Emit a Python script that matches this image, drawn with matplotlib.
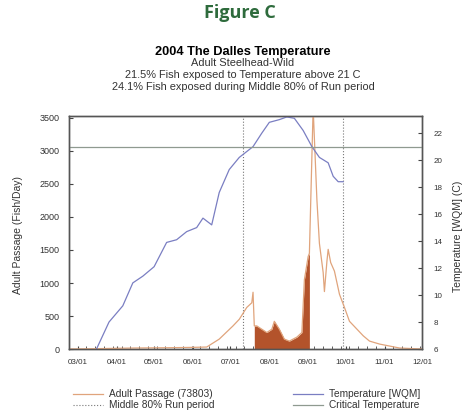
import matplotlib
matplotlib.use('Agg')
import matplotlib.pyplot as plt
import matplotlib.dates as mdates
import numpy as np
import pandas as pd

# Temperature [WQM], deg C
temp_dates = ['2004-03-16', '2004-03-26', '2004-04-06', '2004-04-14', '2004-04-22',
              '2004-05-01', '2004-05-11', '2004-05-19', '2004-05-27', '2004-06-04',
              '2004-06-09', '2004-06-16', '2004-06-22', '2004-06-30', '2004-07-08',
              '2004-07-19', '2004-07-26', '2004-08-01', '2004-08-09', '2004-08-15',
              '2004-08-21', '2004-08-28', '2004-09-04', '2004-09-10', '2004-09-17',
              '2004-09-21', '2004-09-25', '2004-09-29']
temp_values = [6.0, 8.0, 9.2, 10.9, 11.4,
               12.1, 13.9, 14.1, 14.7, 15.0,
               15.7, 15.2, 17.6, 19.3, 20.2,
               21.0, 22.0, 22.8, 23.0, 23.2,
               23.1, 22.2, 21.0, 20.2, 19.8,
               18.8, 18.4, 18.4]

# Adult passage, fish/day
pass_dates = ['2004-02-23', '2004-03-15', '2004-04-15', '2004-05-15', '2004-06-01',
              '2004-06-12', '2004-06-22', '2004-07-03', '2004-07-08', '2004-07-14',
              '2004-07-18', '2004-07-19', '2004-07-20', '2004-07-22', '2004-07-26',
              '2004-07-30', '2004-08-03', '2004-08-05', '2004-08-09', '2004-08-13',
              '2004-08-17', '2004-08-23', '2004-08-27', '2004-08-29', '2004-09-01',
              '2004-09-02', '2004-09-05', '2004-09-08', '2004-09-10', '2004-09-13',
              '2004-09-14', '2004-09-16', '2004-09-17', '2004-09-19', '2004-09-22',
              '2004-09-26', '2004-09-30', '2004-10-04', '2004-10-10', '2004-10-15',
              '2004-10-20', '2004-10-28', '2004-11-05', '2004-11-13', '2004-12-01']
pass_values = [0, 5, 15, 20, 25,
               30, 150, 350, 450, 630,
               700, 860, 350, 350, 300,
               250, 300, 420, 300, 150,
               120, 180, 250, 1050, 1400,
               1450, 3650, 2260, 1600, 1160,
               870, 1330, 1510, 1310, 1180,
               830, 630, 420, 300, 200,
               120, 75, 45, 15, 0]

critical_temp = 21
run_start, run_end = '2004-07-11', '2004-09-29'
hot_start, hot_end = '2004-07-20', '2004-09-02'
month_ticks = ['2004-03-01', '2004-04-01', '2004-05-01', '2004-06-01', '2004-07-01',
               '2004-08-01', '2004-09-01', '2004-10-01', '2004-11-01', '2004-12-01']

td = pd.to_datetime(temp_dates)
pdates = pd.to_datetime(pass_dates)
pv = np.array(pass_values)

plt.rcParams['font.family'] = ['Liberation Sans', 'DejaVu Sans']
fig = plt.figure(figsize=(4.69, 4.15), dpi=100)
ax = fig.add_axes([0.147, 0.159, 0.753, 0.5615])
ax2 = ax.twinx()

orange = '#e0a47c'
brown = '#b3532b'
blue = '#7a7ec2'
grey = '#8f9a90'
txt = '#333333'

hot = (pdates >= pd.Timestamp(hot_start)) & (pdates <= pd.Timestamp(hot_end))
ax.fill_between(pdates, 0, pv, where=hot, color=brown, lw=0, zorder=2)
ax.plot(pdates, pv, color=orange, lw=0.9, zorder=3)
for d in (run_start, run_end):
    ax.axvline(pd.Timestamp(d), color='#777777', ls=':', lw=0.8, zorder=1)

ax2.plot(td, temp_values, color=blue, lw=0.9)
ax2.axhline(critical_temp, color=grey, lw=0.9)

ax.set_xlim(pd.Timestamp('2004-02-23'), pd.Timestamp('2004-12-01'))
ax.set_ylim(0, 3530)
ax2.set_ylim(6, 23.27)
ax.set_yticks(np.arange(0, 3501, 500))
ax2.set_yticks(np.arange(6, 23, 2))
ax.set_xticks(pd.to_datetime(month_ticks))
ax.xaxis.set_major_formatter(mdates.DateFormatter('%m/%d'))
ax.xaxis.set_minor_locator(mdates.WeekdayLocator(byweekday=0))

ax.tick_params(axis='y', direction='in', length=3, labelsize=6.5, pad=7, colors='#444444', labelcolor=txt)
ax.tick_params(axis='x', which='both', direction='in', length=2.5, labelsize=5.8, pad=7, colors='#444444', labelcolor=txt)
ax2.tick_params(axis='y', direction='in', length=3, labelsize=5.8, pad=8, colors='#444444', labelcolor=txt)
for a in (ax, ax2):
    for s in a.spines.values():
        s.set_color('#555555')
        s.set_linewidth(1.0)

fig.text(0.038, 0.434, 'Adult Passage (Fish/Day)', rotation=90, ha='center', va='center', fontsize=7.5, color=txt)
fig.text(0.976, 0.43, 'Temperature [WQM] (C)', rotation=90, ha='center', va='center', fontsize=7.5, color=txt)

fig.text(0.512, 0.969, 'Figure C', ha='center', va='center', fontsize=13, fontweight='bold',
         color='#2e6b3c', family=['Open Sans', 'DejaVu Sans'])
fig.text(0.518, 0.875, '2004 The Dalles Temperature', ha='center', va='center', fontsize=9.2, fontweight='bold')
fig.text(0.518, 0.848, 'Adult Steelhead-Wild', ha='center', va='center', fontsize=7.9, color=txt)
fig.text(0.518, 0.819, '21.5% Fish exposed to Temperature above 21 C', ha='center', va='center', fontsize=7.9, color=txt)
fig.text(0.518, 0.790, '24.1% Fish exposed during Middle 80% of Run period', ha='center', va='center', fontsize=7.9, color=txt)

handles = [plt.Line2D([], [], color=orange, lw=0.9),
           plt.Line2D([], [], color='#777777', ls=':', lw=0.8),
           plt.Line2D([], [], color=blue, lw=0.9),
           plt.Line2D([], [], color=grey, lw=0.9)]
labels = ['Adult Passage (73803)', 'Middle 80% Run period', 'Temperature [WQM]', 'Critical Temperature']
leg = fig.legend(handles, labels, ncol=2, loc='upper left', bbox_to_anchor=(0.156, 0.062), frameon=False,
                 fontsize=7.3, handlelength=2.9, columnspacing=7.8, labelspacing=0.08, handletextpad=0.6,
                 borderaxespad=0, borderpad=0)
for t in leg.get_texts():
    t.set_color(txt)

fig.savefig('out.png', dpi=100)
